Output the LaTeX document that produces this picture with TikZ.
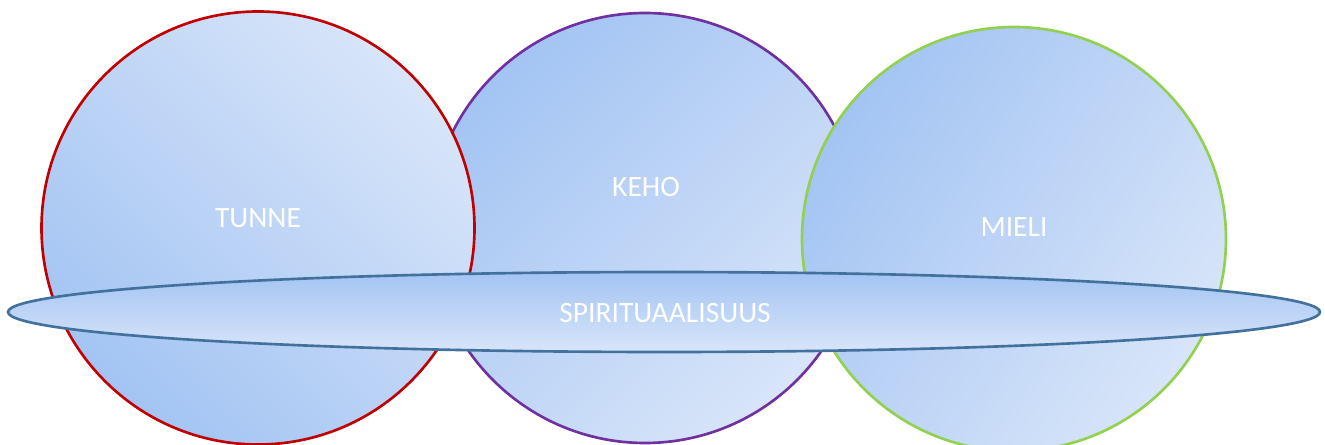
\documentclass[tikz,border=0pt]{standalone}
\usepackage{fontspec}
\setmainfont{Carlito}
\usepackage{tikz}
\usetikzlibrary{shapes.geometric}
\definecolor{fillDark}{RGB}{163,196,243}
\definecolor{fillLight}{RGB}{216,229,249}
\definecolor{tunneRed}{RGB}{192,0,0}
\definecolor{kehoPurple}{RGB}{112,48,160}
\definecolor{mieliGreen}{RGB}{146,208,80}
\definecolor{spiritBlue}{RGB}{65,113,156}

\begin{document}
\begin{tikzpicture}[
    bubble/.style={circle, draw, line width=0.75pt, inner sep=0pt, minimum size=4.3cm},
    band/.style={ellipse, draw=spiritBlue, line width=0.75pt, inner sep=0pt,
                 minimum width=13.12cm, minimum height=0.8cm},
    word/.style={text=white, font=\fontsize{8.4}{10}\selectfont, inner sep=0pt}
  ]
    \clip (0,0) rectangle (13.25,-4.45);

    % middle circle goes first, the side circles lie over it
    \node[bubble, draw=kehoPurple, top color=fillDark, bottom color=fillLight, shading angle=45]
          (keho)  at (6.45,-2.28) {};
    \node[bubble, draw=tunneRed, minimum size=4.33cm, top color=fillLight, bottom color=fillDark, shading angle=-45]
          (tunne) at (2.58,-2.28) {};
    \node[bubble, draw=mieliGreen, minimum size=4.24cm, top color=fillDark, bottom color=fillLight, shading angle=55]
          (mieli) at (10.14,-2.39) {};

    % band across all three
    \node[band, top color=fillDark, bottom color=fillLight]
          (spirit) at (6.64,-3.12) {};

    \node[word] (tunneTxt)  at (2.58,-2.18)  {TUNNE};
    \node[word] (kehoTxt)   at (6.46,-1.87)  {KEHO};
    \node[word] (mieliTxt)  at (10.14,-2.27) {MIELI};
    \node[word] (spiritTxt) at (6.65,-3.13)  {SPIRITUAALISUUS};
\end{tikzpicture}
\end{document}
